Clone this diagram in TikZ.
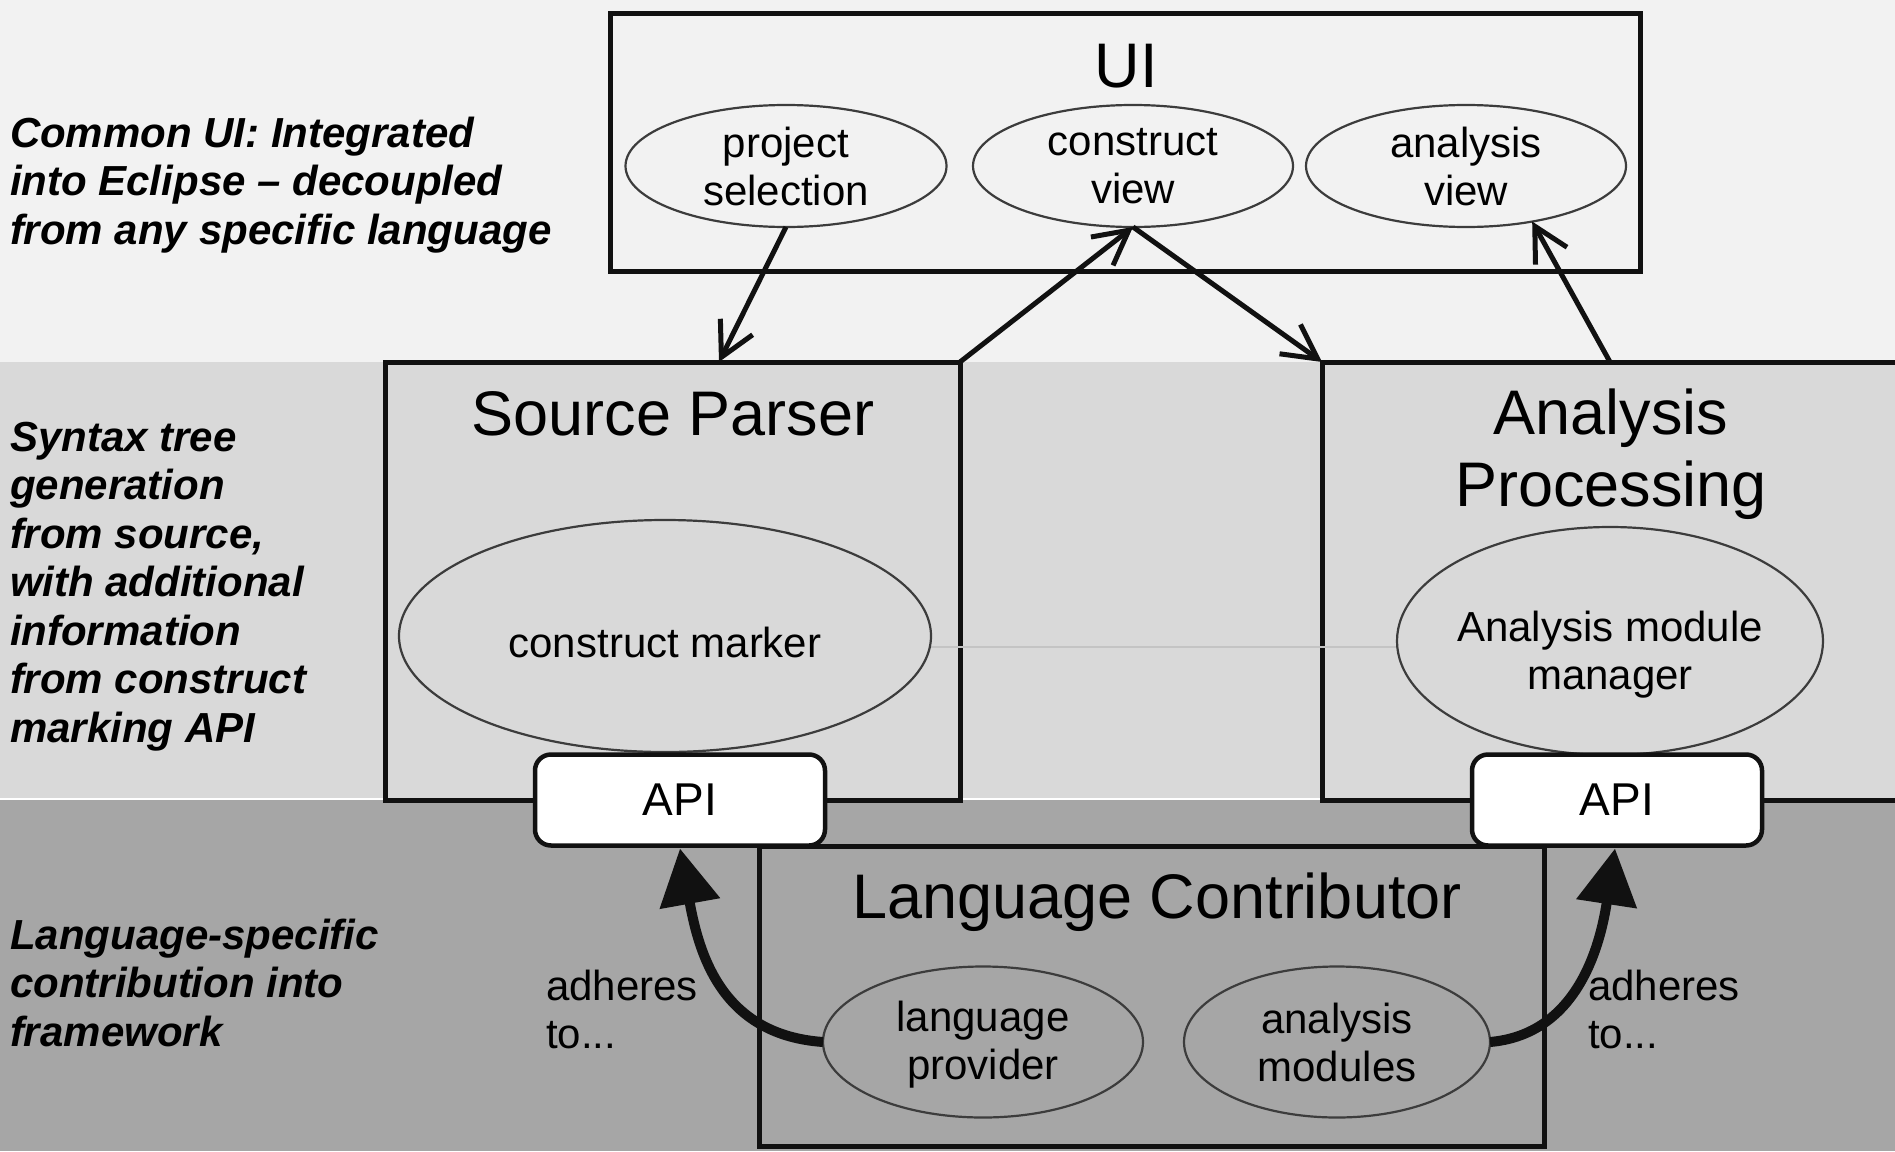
\documentclass[tikz,border=0pt]{standalone}
\usepackage{fontspec}
\setmainfont{Liberation Sans}
\usetikzlibrary{shapes.geometric,arrows.meta}
\definecolor{bandtop}{HTML}{F2F2F2}
\definecolor{bandmid}{HTML}{D9D9D9}
\definecolor{bandlow}{HTML}{A6A6A6}
\definecolor{ink}{HTML}{111111}
\definecolor{ovalline}{HTML}{3C3C3C}
\definecolor{seamline}{HTML}{C4C4C4}
\newcommand\ttlsize{\fontsize{63}{72}\selectfont}
\newcommand\ovsize{\fontsize{42}{48}\selectfont}
\newcommand\apisize{\fontsize{46}{52}\selectfont}
\newcommand\notesize{\fontsize{42}{48.5}\selectfont\bfseries\itshape}
\begin{document}
\begin{tikzpicture}[x=1pt,y=-1pt,
  every node/.style={inner sep=0pt,outer sep=0pt},
  frame/.style={rectangle,draw=ink,line width=5pt,anchor=north west},
  oval/.style={ellipse,draw=ovalline,line width=2.2pt,align=center,font=\ovsize},
  ovtext/.style={font=\ovsize,align=center},
  ttl/.style={font=\ttlsize,align=center},
  note/.style={font=\notesize,align=left,anchor=base west},
  apibox/.style={rectangle,rounded corners=16pt,draw=ink,line width=4.5pt,fill=white,font=\apisize},
  thinarrow/.style={draw=ink,line width=5pt,-{Straight Barb[length=34pt,width=36pt]}},
  bigarrow/.style={draw=ink,line width=10pt,-{Triangle[length=56pt,width=59pt]}},
  seam/.style={draw=seamline,line width=1.2pt}]

\useasboundingbox (0,0) rectangle (1895,1151);
\clip (0,0) rectangle (1895,1151);

% horizontal layers
\fill[bandtop] (0,0) rectangle (1895,362);
\fill[bandmid] (0,362) rectangle (1895,800);
\fill[bandlow] (0,800) rectangle (1895,1151);
\draw[white,line width=2pt] (0,799) -- (1895,799);

% layer captions (anchored at the baseline of their last line)
\node[note] (n1) at (10,244) {Common UI: Integrated\\into Eclipse -- decoupled\\from any specific language};
\node[note] (n2) at (10,742) {Syntax tree\\generation\\from source,\\with additional\\information\\from construct\\marking API};
\node[note] (n3) at (10,1046) {Language-specific\\contribution into\\framework};

% component frames
\node[frame,fill=bandtop,minimum width=1030,minimum height=258] (ui) at (610,13) {};
\node[frame,fill=bandmid,minimum width=575,minimum height=438] (sp) at (385,362) {};
\node[frame,fill=bandmid,minimum width=620,minimum height=438] (ap) at (1322,362) {};
\node[frame,fill=bandlow,minimum width=785,minimum height=300] (lc) at (759,846) {};

% frame titles
\node[ttl,anchor=base] (uit) at (1126,87) {UI};
\node[ttl,anchor=base] (spt) at (673,435) {Source Parser};
\node[ttl] (apt) at (1611,454) {Analysis\\Processing};
\node[ttl,anchor=base] (lct) at (1157,918) {Language Contributor};

% UI elements
\node[oval,fill=bandtop,minimum width=321,minimum height=122] (ps) at (786,166) {project\\selection};
\node[oval,fill=bandtop,minimum width=320,minimum height=122] (cv) at (1133,166) {construct\\view};
\node[oval,fill=bandtop,minimum width=320,minimum height=122] (av) at (1466,166) {analysis\\view};

% faint link between the two middle ellipses
\draw[seam] (908,647) -- (1400,647);

% parser and analysis elements
\node[oval,fill=bandmid,minimum width=532,minimum height=232] (cm) at (665,636) {};
\node[ovtext] (cmt) at ([yshift=-6pt]cm.center) {construct marker};
\node[oval,fill=bandmid,minimum width=426,minimum height=228] (amm) at (1610,641) {};
\node[ovtext] (ammt) at ([yshift=-14pt]amm.center) {Analysis module\\manager};

% contributor elements
\node[oval,fill=bandlow,minimum width=320,minimum height=151] (lp) at (983,1042) {};
\node[ovtext] (lpt) at ([yshift=-3pt]lp.center) {language\\provider};
\node[oval,fill=bandlow,minimum width=306,minimum height=151] (am) at (1337,1042) {analysis\\modules};

% API tabs
\node[apibox,minimum width=290,minimum height=91] (apil) at (680,800) {API};
\node[apibox,minimum width=290,minimum height=91] (apir) at (1617,800) {API};

% data flow between UI and back end
\draw[thinarrow] (ps.south) -- ([xshift=334pt]sp.north west);
\draw[thinarrow] (sp.north east) -- (cv.south);
\draw[thinarrow] (cv.south) -- (ap.north west);
\draw[thinarrow] ([xshift=288pt]ap.north west) -- (av.-40);

% contributions adhere to the APIs
\draw[bigarrow] (lp.west) .. controls (725,1035) and (700,960) .. ([yshift=-3pt]apil.south);
\draw[bigarrow] (am.east) .. controls (1570,1035) and (1598,960) .. ([yshift=-3pt,xshift=-2pt]apir.south);
\node[ovtext,align=left,anchor=base west] (adl) at (546,1048) {adheres\\to...};
\node[ovtext,align=left,anchor=base west] (adr) at (1588,1048) {adheres\\to...};
\end{tikzpicture}
\end{document}
